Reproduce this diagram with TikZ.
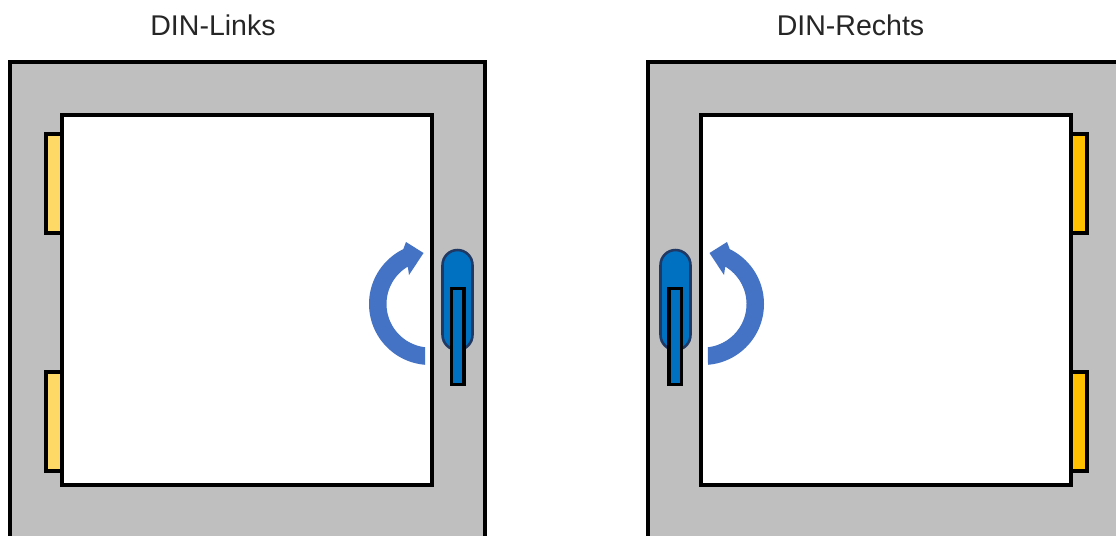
\documentclass[tikz,border=0pt]{standalone}
\usepackage{fontspec}
\setmainfont{Liberation Sans}
\definecolor{framegray}{HTML}{BFBFBF}
\definecolor{hingeL}{HTML}{FFD966}
\definecolor{hingeR}{HTML}{FFC000}
\definecolor{handleblue}{HTML}{0070C0}
\definecolor{handleedge}{HTML}{1F3864}
\definecolor{arrowblue}{HTML}{4472C4}
\tikzset{
  part/.style={draw=black,line width=2.3pt,line join=miter},
  framepart/.style={part,fill=framegray},
  sash/.style={part,fill=white},
  handlebody/.style={draw=handleedge,line width=1.9pt,fill=handleblue},
  lever/.style={draw=black,line width=2.3pt,fill=handleblue},
  title/.style={font=\fontsize{21.4pt}{25pt}\selectfont,text=black!85,inner sep=0pt}
}
\newcommand{\doorunit}[1]{%
  \path[framepart] (10,62) rectangle (485,620);
  \path[part,fill=#1] (46,134) rectangle (62,233);
  \path[part,fill=#1] (46,372) rectangle (62,471);
  \path[sash] (62,115) rectangle (432,485);
  \path[handlebody] (442.5,265) arc[start angle=180,end angle=360,radius=15] -- (472.5,335) arc[start angle=0,end angle=180,radius=15] -- cycle;
  \path[lever] (451.5,288.5) rectangle (464,384.5);
  \fill[arrowblue] plot[domain=94.7:244,samples=50] ({430+61*cos(\x)},{304+61*sin(\x)})
    -- (406,242) -- (423.5,253) -- (409,275) -- (408,268)
    -- plot[domain=239:96.5,samples=50] ({430+43.5*cos(\x)},{304+43.5*sin(\x)}) -- cycle;
}
\begin{document}
\begin{tikzpicture}[x=0.75pt,y=-0.75pt]
  \useasboundingbox (0,0) rectangle (1116,535);
  \clip (0,0) rectangle (1116,535);
  \fill[white] (0,0) rectangle (1116,535);
  \node[title] (titleL) at (213,25.5) {DIN-Links};
  \node[title] (titleR) at (850.5,25.5) {DIN-Rechts};
  \begin{scope}
    \doorunit{hingeL}
  \end{scope}
  \begin{scope}[shift={(1133,0)},xscale=-1]
    \doorunit{hingeR}
  \end{scope}
\end{tikzpicture}
\end{document}
